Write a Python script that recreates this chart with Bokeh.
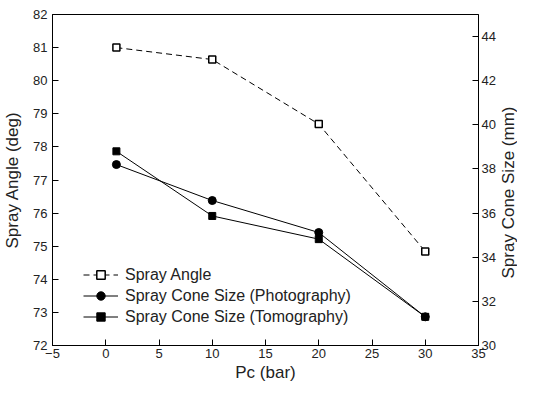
import math
from bokeh.plotting import figure
from bokeh.models import Range1d, LinearAxis, FixedTicker, Legend, Label
from bokeh.embed import file_html
from bokeh.resources import INLINE

# Data
pc = [1, 10, 20, 30]
spray_angle = [81.0, 80.64, 78.69, 74.84]          # deg, left axis
cone_photo = [38.2, 36.57, 35.12, 31.3]            # mm, right axis
cone_tomo = [38.8, 35.87, 34.82, 31.3]             # mm, right axis

x_ticks = [-5, 0, 5, 10, 15, 20, 25, 30, 35]
left_ticks = [72, 73, 74, 75, 76, 77, 78, 79, 80, 81, 82]
right_ticks = [30, 32, 34, 36, 38, 40, 42, 44]

FONT = "Liberation Sans"
W, H = 517, 384
BL, BR, BT = 52, 36, 14

p = figure(width=W, height=H, output_backend="svg", toolbar_location=None,
           x_range=Range1d(-5, 35), y_range=Range1d(72, 82),
           min_border_left=BL, min_border_top=BT, min_border_bottom=30, min_border_right=BR)
p.extra_y_ranges = {"right": Range1d(30, 45)}

p.xgrid.visible = False
p.ygrid.visible = False
p.outline_line_color = "black"
p.outline_line_width = 1
p.background_fill_color = "white"
p.border_fill_color = "white"

r_angle_l = p.line(pc, spray_angle, line_color="black", line_width=1, line_dash="6 4")
r_angle_m = p.scatter(pc, spray_angle, marker="square", size=7, fill_color="white",
                      line_color="black", line_width=1.5)
r_photo_l = p.line(pc, cone_photo, line_color="black", line_width=1, y_range_name="right")
r_photo_m = p.scatter(pc, cone_photo, marker="circle", size=8, fill_color="black",
                      line_color="black", y_range_name="right")
r_tomo_l = p.line(pc, cone_tomo, line_color="black", line_width=1, y_range_name="right")
r_tomo_m = p.scatter(pc, cone_tomo, marker="square", size=7, fill_color="black",
                     line_color="black", y_range_name="right")

def style_axis(ax):
    ax.major_tick_in = 6
    ax.major_tick_out = 0
    ax.minor_tick_line_color = None
    ax.axis_line_color = "black"
    ax.major_tick_line_color = "black"
    ax.major_label_text_font = FONT
    ax.major_label_text_font_size = "13px"
    ax.major_label_text_color = "#222222"
    ax.axis_label_text_font = FONT
    ax.axis_label_text_font_size = "17px"
    ax.axis_label_text_font_style = "normal"
    ax.axis_label_text_color = "#222222"

p.xaxis.ticker = FixedTicker(ticks=x_ticks)
p.xaxis.axis_label = "Pc (bar)"
p.xaxis.major_label_standoff = 3
p.xaxis.axis_label_standoff = 2
p.yaxis.ticker = FixedTicker(ticks=left_ticks)
p.yaxis.axis_label = "Spray Angle (deg)"
p.yaxis.major_label_standoff = 5
p.yaxis.axis_label_standoff = 8
style_axis(p.xaxis[0])
style_axis(p.yaxis[0])

ax_r = LinearAxis(y_range_name="right", ticker=FixedTicker(ticks=right_ticks))
style_axis(ax_r)
ax_r.major_label_standoff = 3
p.add_layout(ax_r, "right")

# right axis title (reads bottom-to-top, like the reference)
right_title = Label(text="Spray Cone Size (mm)", x=W - 9, y=192,
                    x_units="canvas", y_units="canvas", angle=math.pi / 2,
                    text_align="center", text_baseline="middle",
                    text_font=FONT, text_font_size="17px", text_color="#222222")
p.add_layout(right_title, "right")

legend = Legend(items=[
    ("Spray Angle", [r_angle_l, r_angle_m]),
    ("Spray Cone Size (Photography)", [r_photo_l, r_photo_m]),
    ("Spray Cone Size (Tomography)", [r_tomo_l, r_tomo_m]),
], location=(31, 18))
legend.border_line_color = None
legend.background_fill_alpha = 0
legend.padding = 0
legend.margin = 0
legend.spacing = 0
legend.label_height = 21
legend.glyph_height = 21
legend.glyph_width = 35
legend.label_standoff = 7
legend.label_text_font = FONT
legend.label_text_font_size = "16px"
legend.label_text_color = "#222222"
p.add_layout(legend, "center")

open("out.html", "w").write(file_html(p, INLINE))
